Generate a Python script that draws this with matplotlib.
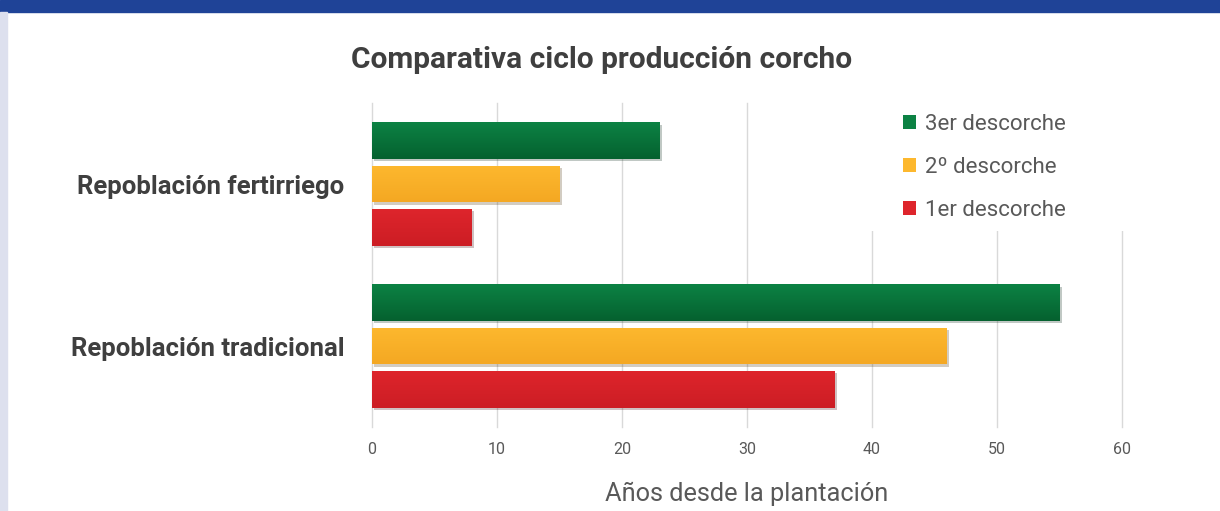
import numpy as np
import matplotlib.pyplot as plt
from matplotlib.colors import LinearSegmentedColormap
from matplotlib.patches import Rectangle
import matplotlib.patheffects as pe

categories = ['Repoblación tradicional', 'Repoblación fertirriego']
series = ['3er descorche', '2º descorche', '1er descorche']
values = {
    '3er descorche': [55, 23],
    '2º descorche': [46, 15],
    '1er descorche': [37, 8],
}
colors = {
    '3er descorche': ('#0c8244', '#05612f'),
    '2º descorche': ('#fdb82e', '#f4a823'),
    '1er descorche': ('#de252c', '#cc1d24'),
}
xticks = [0, 10, 20, 30, 40, 50, 60]

plt.rcParams['font.family'] = ['Roboto', 'DejaVu Sans']
grey = '#595959'

fig = plt.figure(figsize=(12.2, 5.11), dpi=100)
fig.patches.append(Rectangle((0, 1 - 12 / 511), 1, 12 / 511, transform=fig.transFigure,
                             color='#1f4397', zorder=0))
fig.patches.append(Rectangle((0, 0), 7 / 1220, 1 - 12 / 511, transform=fig.transFigure,
                             color='#dde0ee', zorder=0))

ax = fig.add_axes([372 / 1220, 1 - 427 / 511, 750 / 1220, 324 / 511])
y = np.arange(len(categories))
pitch = 0.266
height = 0.228
offsets = [pitch, 0, -pitch]

for name, off in zip(series, offsets):
    top, bottom = colors[name]
    bars = ax.barh(y + off, values[name], height=height, color=top, label=name, zorder=3,
                   path_effects=[pe.SimplePatchShadow(offset=(1.5, -1.5), alpha=0.25), pe.Normal()])
    cmap = LinearSegmentedColormap.from_list(name, [bottom, top])
    grad = np.linspace(0, 1, 50).reshape(-1, 1)
    for b in bars:
        x0, y0, w, h = b.get_x(), b.get_y(), b.get_width(), b.get_height()
        im = ax.imshow(grad, extent=(x0, x0 + w, y0, y0 + h), origin='lower', cmap=cmap,
                       aspect='auto', zorder=4)
        im.set_clip_path(b)

ax.set_xlim(0, 60)
ax.set_ylim(-0.5, 1.5)
ax.set_xticks(xticks)
ax.set_yticks(y)
ax.set_yticklabels(categories, fontsize=18.5, fontweight='bold', color='#3f3f3f')
ax.tick_params(axis='y', length=0, pad=20)
ax.tick_params(axis='x', length=0, pad=11, labelsize=11.5, labelcolor=grey)
ax.set_axisbelow(True)
ax.grid(axis='x', color='#d9d9d9', linewidth=1)
for gl in ax.get_xgridlines():
    gl.set_clip_on(False)
for s in ax.spines.values():
    s.set_visible(False)
ax.set_xlabel('Años desde la plantación', fontsize=18.3, color=grey, labelpad=18)

# white box behind the legend hides the gridlines there
ax.add_patch(Rectangle((860 / 1220, 1 - 231 / 511), 275 / 1220, 131 / 511,
                       transform=fig.transFigure, facecolor='white', edgecolor='none',
                       zorder=2, clip_on=False))

leg = ax.legend(loc='upper left', bbox_to_anchor=(896 / 1220, 1 - 107 / 511),
                bbox_transform=fig.transFigure, frameon=False, fontsize=16,
                labelcolor=grey, handlelength=0.6, handleheight=0.6, handletextpad=0.4,
                labelspacing=1.0, borderpad=0.3, borderaxespad=0)
leg.set_zorder(5)
for h in leg.legend_handles:
    h.set_path_effects([])

fig.text(602 / 1220, 1 - 60 / 511, 'Comparativa ciclo producción corcho', ha='center', va='center',
         fontsize=21.5, fontweight='bold', color='#3f3f3f')

fig.savefig('out.png', dpi=100)
